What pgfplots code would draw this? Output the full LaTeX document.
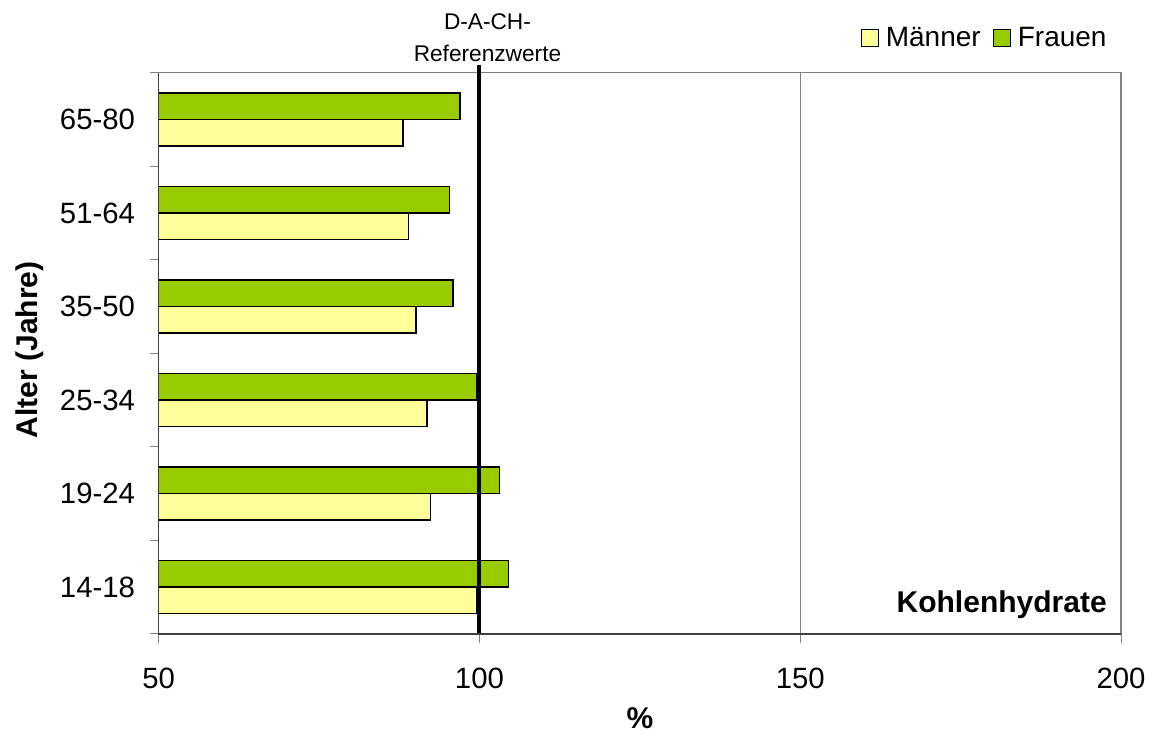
\documentclass[border=0pt]{standalone}
\usepackage{fontspec}
\setmainfont{Liberation Sans}
\usepackage{pgfplots}
\pgfplotsset{compat=1.18}
\definecolor{fgreen}{HTML}{99CC00}
\definecolor{myellow}{HTML}{FFFF99}
\definecolor{gridgray}{HTML}{808080}
\definecolor{axdark}{HTML}{404040}
\begin{document}
\begin{tikzpicture}
\begin{axis}[
  scale only axis, width=721.5pt, height=420.75pt,
  xbar, bar width=19.9pt,
  xmin=50, xmax=200, ymin=0.5, ymax=6.5,
  xtick={50,100,150,200},
  ytick={1,...,6},
  yticklabels={14-18,19-24,25-34,35-50,51-64,65-80},
  minor ytick={0.5,1.5,...,6.5},
  xtick pos=left, ytick pos=left,
  tick align=outside, major tick length=6.75pt, minor tick length=6.75pt,
  major y tick style={draw=none},
  minor y tick style={draw=gridgray, line width=0.75pt},
  major x tick style={draw=gridgray, line width=0.75pt},
  xmajorgrids, major grid style={draw=gridgray, line width=0.75pt},
  axis line style={draw=gridgray, line width=0.9pt},
  ticklabel style={font=\fontsize{22}{26}\selectfont},
  /pgf/number format/assume math mode=true,
  xticklabel shift=15pt, yticklabel shift=7.5pt,
  xlabel={\%}, ylabel={Alter (Jahre)},
  label style={font=\fontsize{22.5}{27}\selectfont\bfseries},
  xlabel style={at={(axis description cs:0.5,-0.1497)}, anchor=center},
  ylabel style={at={(axis description cs:-0.1338,0.506)}, anchor=center},
  legend columns=2,
  legend style={at={(axis description cs:0.9886,1.062)}, anchor=east, draw=none, fill=none,
    inner sep=0pt, font=\fontsize{21}{25}\selectfont,
    nodes={inner sep=2.4pt},
    /tikz/every even column/.append style={column sep=7pt}},
  clip mode=individual,
]
\addplot[fill=myellow, draw=black, line width=1.1pt, bar shift=-9.95pt,
  legend image code/.code={\draw[fill=myellow, draw=black, line width=0.9pt] (0pt,-6.4pt) rectangle (12.75pt,6.4pt); \path (15pt,0pt);}]
  coordinates {(99.5,1) (92.4,2) (91.8,3) (90.1,4) (88.9,5) (88.1,6)};
\addlegendentry{Männer}
\addplot[fill=fgreen, draw=black, line width=1.1pt, bar shift=9.95pt,
  legend image code/.code={\draw[fill=fgreen, draw=black, line width=0.9pt] (0pt,-6.4pt) rectangle (12.75pt,6.4pt); \path (15pt,0pt);}]
  coordinates {(104.5,1) (103.1,2) (99.6,3) (95.9,4) (95.3,5) (97.0,6)};
\addlegendentry{Frauen}
\draw[black, line width=3pt] (axis cs:100,0.5) -- (axis cs:100,6.58);
\node[anchor=south, align=center, inner sep=0pt, xshift=6pt, yshift=2.25pt,
  font=\fontsize{17}{24}\selectfont] at (axis cs:100,6.58) {D-A-CH-\\Referenzwerte};
\draw[axdark, line width=1pt] (rel axis cs:0,1) -- (rel axis cs:0,0) -- (rel axis cs:1,0);
\node[anchor=base east, inner sep=0pt, xshift=-10.5pt, yshift=15.75pt,
  font=\fontsize{22.5}{27}\selectfont\bfseries] at (rel axis cs:1,0) {Kohlenhydrate};
\end{axis}
\pgfresetboundingbox
\path[use as bounding box] ([xshift=-119pt,yshift=-79.5pt]current axis.south west)
  rectangle ([xshift=25.5pt,yshift=54.5pt]current axis.north east);
\end{tikzpicture}
\end{document}
